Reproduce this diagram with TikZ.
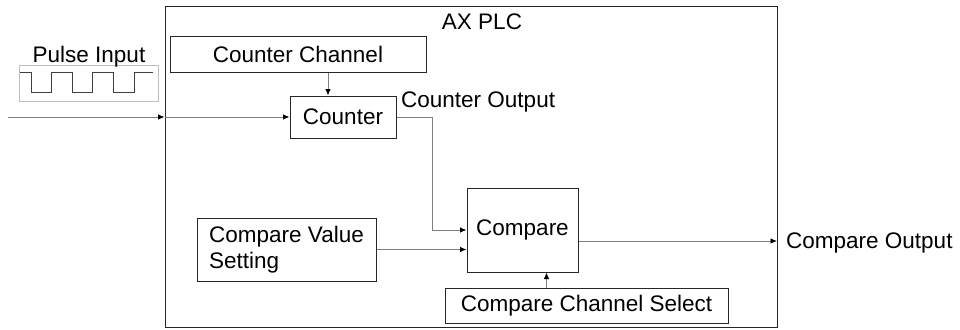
\documentclass[tikz,border=0pt]{standalone}
\usepackage{fontspec}
\setmainfont{Liberation Sans}
\usetikzlibrary{arrows.meta}
\definecolor{wire}{HTML}{808080}
\definecolor{edge}{HTML}{262626}

\begin{document}
\begin{tikzpicture}[x=1pt,y=-1pt,every node/.style={font=\fontsize{22.5}{25.5}\selectfont,inner sep=0pt},box/.style={draw=edge,line width=1pt,align=center},arr/.style={draw=wire,line width=0.9pt,-{Latex[length=6.5pt,width=5.5pt,color=black]}}]
\useasboundingbox (0,0) rectangle (960,329);
\node[box,minimum width=612pt,minimum height=320pt] (plc) at (471,167) {};
\node (plcl) at (482,22) {AX PLC};
\node[draw=black!25,line width=0.8pt,minimum width=139pt,minimum height=36pt] (pulse) at (88.5,83) {};
\node (pulsel) at (89,57) {Pulse Input};
\draw[black!75,line width=1pt] (20,72) -- (31.7,72) -- (31.7,92) -- (51.7,92) -- (51.7,72) -- (72.7,72) -- (72.7,92) -- (92.7,92) -- (92.7,72) -- (113.4,72) -- (113.4,92) -- (134,92) -- (134,72) -- (153,72);
\node[box,minimum width=256pt,minimum height=35pt] (cc) at (298,54.5) {Counter Channel};
\node[box,minimum width=106pt,minimum height=42pt] (cnt) at (343,117) {Counter};
\node[anchor=west] (cntl) at (401,102) {Counter Output};
\node[box,minimum width=111pt,minimum height=84pt] (cmp) at (522.5,230) {Compare};
\node[box,align=left,minimum width=179pt,minimum height=63pt] (cvs) at (286.5,249.5) {Compare Value\\Setting};
\node[box,minimum width=283pt,minimum height=35pt] (ccs) at (586.5,306) {Compare Channel Select};
\coordinate (in) at (8,117);
\coordinate (out) at (777,241);
\node[anchor=west] (outl) at (786,243) {Compare Output};
\draw[arr] (in) -- (in -| plc.west);
\draw[arr] (in -| plc.west) -- (cnt.west);
\draw[arr] ([xshift=-15pt]cnt.north |- cc.south) -- ([xshift=-15pt]cnt.north);
\draw[arr] (cnt.east) -- ++(36,0) |- (cmp.west);
\draw[arr] (cvs.east) -- (cvs.east -| cmp.west);
\draw[arr] ([xshift=24pt]cmp.south |- ccs.north) -- ([xshift=24pt]cmp.south);
\draw[arr] (cmp.east |- out) -- (out);
\end{tikzpicture}
\end{document}
